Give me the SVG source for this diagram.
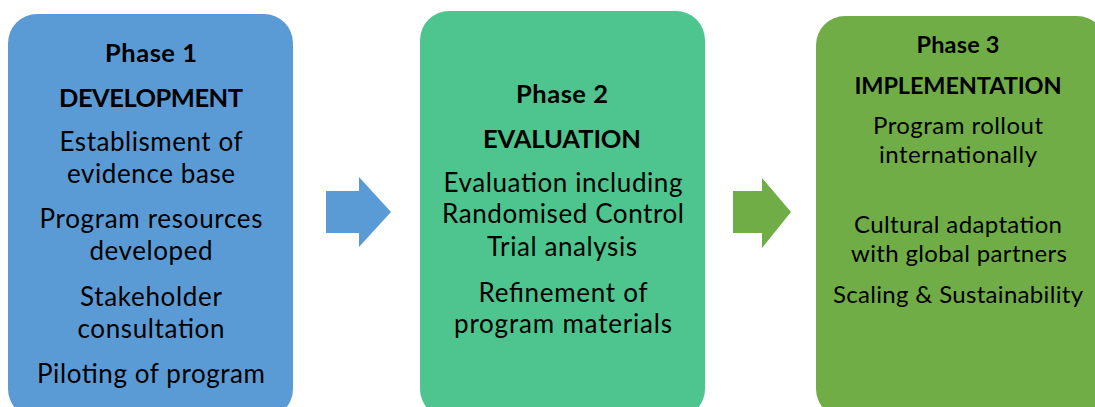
<svg xmlns="http://www.w3.org/2000/svg" width="1095" height="407" viewBox="0 0 1095 407">
<style>
text{font-family:Lato,"Open Sans","Liberation Sans",sans-serif;fill:#000;text-anchor:middle}
.t{font-weight:bold;font-size:25.5px}
.b{font-size:26px}
.t3{font-weight:bold;font-size:23.5px}
.b3{font-size:24px}
</style>
<rect width="1095" height="407" fill="#fff"/>
<g id="phase1">
<rect x="8" y="14" width="285" height="404" rx="29" fill="#5B9BD5"/>
<text class="t" x="151" y="62" textLength="92" lengthAdjust="spacing">Phase 1</text>
<text class="t" x="151" y="107" textLength="184" lengthAdjust="spacing">DEVELOPMENT</text>
<text class="b" x="151" y="151" textLength="183" lengthAdjust="spacing">Establisment of</text>
<text class="b" x="151" y="183" textLength="168" lengthAdjust="spacing">evidence base</text>
<text class="b" x="151" y="228" textLength="223" lengthAdjust="spacing">Program resources</text>
<text class="b" x="151" y="260" textLength="123" lengthAdjust="spacing">developed</text>
<text class="b" x="151" y="306" textLength="142" lengthAdjust="spacing">Stakeholder</text>
<text class="b" x="151" y="338" textLength="147" lengthAdjust="spacing">consultation</text>
<text class="b" x="151" y="383" textLength="228" lengthAdjust="spacing">Piloting of program</text>
</g>
<g id="phase2">
<rect x="420" y="11" width="285" height="407" rx="29" fill="#4EC58E"/>
<text class="t" x="562" y="103" textLength="92" lengthAdjust="spacing">Phase 2</text>
<text class="t" x="562" y="148" textLength="158" lengthAdjust="spacing">EVALUATION</text>
<text class="b" x="563" y="192" textLength="239" lengthAdjust="spacing">Evaluation including</text>
<text class="b" x="563" y="223" textLength="242" lengthAdjust="spacing">Randomised Control</text>
<text class="b" x="562" y="256" textLength="150" lengthAdjust="spacing">Trial analysis</text>
<text class="b" x="563" y="302" textLength="169" lengthAdjust="spacing">Refinement of</text>
<text class="b" x="563" y="333" textLength="218" lengthAdjust="spacing">program materials</text>
</g>
<g id="phase3">
<rect x="816" y="16" width="290" height="402" rx="29" fill="#70AD47"/>
<text class="t3" x="958" y="53" textLength="83" lengthAdjust="spacing">Phase 3</text>
<text class="t3" x="958" y="94" textLength="207" lengthAdjust="spacing">IMPLEMENTATION</text>
<text class="b3" x="958" y="134" textLength="170" lengthAdjust="spacing">Program rollout</text>
<text class="b3" x="958" y="163" textLength="158" lengthAdjust="spacing">internationally</text>
<text class="b3" x="958" y="233" textLength="208" lengthAdjust="spacing">Cultural adaptation</text>
<text class="b3" x="959" y="262" textLength="216" lengthAdjust="spacing">with global partners</text>
<text class="b3" x="958" y="303" textLength="250" lengthAdjust="spacing">Scaling &amp; Sustainability</text>
</g>
<g id="connectors">
<polygon points="326,191 359,191 359,177 391,212 359,247 359,233 326,233" fill="#5B9BD5"/>
<polygon points="733,191 762,191 762,178 791,212 762,248 762,233 733,233" fill="#70AD47"/>
</g>
</svg>
